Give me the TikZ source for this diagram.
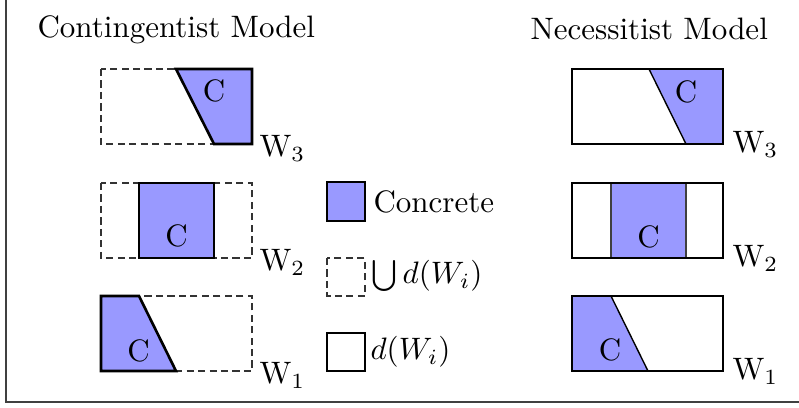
\documentclass[tikz,border=0pt]{standalone}
\definecolor{concrete}{RGB}{153,153,255}
\begin{document}
\begin{tikzpicture}[x=0.3226pt,y=-0.3226pt,
  dashbox/.style={draw=black!80, line width=0.45pt, dash pattern=on 2.3pt off 1.4pt},
  solidbox/.style={draw=black, line width=0.85pt},
  concfill/.style={fill=concrete},
  concedge/.style={draw=black, line width=0.85pt, line join=miter},
  thinsep/.style={draw=black!75, line width=0.4pt},
  lbl/.style={inner sep=0pt, anchor=base west},
  ctext/.style={inner sep=0pt},
  legtext/.style={inner sep=0pt, anchor=west}]
\useasboundingbox (0,0) rectangle (799,408);
\draw[black!75, line width=0.6pt] (6,0) -- (6,402) -- (799,402);

% titles
\node[lbl] (ct) at (37,37) {Contingentist Model};
\node[lbl] (nt) at (530,40) {Necessitist Model};

% ---- Contingentist model ----
% W3
\draw[dashbox] (101,69) rectangle (252,144);
\filldraw[concfill, concedge] (176,69) -- (252,69) -- (252,144) -- (214,144) -- cycle;
\node[ctext] (c3) at (214,91) {C};
\node[lbl] (cw3) at (259,157) {W$_3$};
% W2
\draw[dashbox] (101,183) rectangle (252,258);
\filldraw[concfill, concedge] (139,183) rectangle (214,258);
\node[ctext] (c2) at (176.5,236) {C};
\node[lbl] (cw2) at (259,271) {W$_2$};
% W1
\draw[dashbox] (101,296) rectangle (252,371);
\filldraw[concfill, concedge] (101,296) -- (139,296) -- (176,371) -- (101,371) -- cycle;
\node[ctext] (c1) at (138.5,351) {C};
\node[lbl] (cw1) at (259,384) {W$_1$};

% ---- Legend ----
\filldraw[fill=concrete, draw=black, line width=0.5pt] (327,182) rectangle (365,221);
\node[legtext] (lc) at (373,202) {Concrete};
\draw[dashbox] (327,258) rectangle (365,296);
\node[legtext] (lu) at (371,276) {$\bigcup d(W_i)$};
\draw[solidbox] (327,333) rectangle (365,371);
\node[legtext] (ld) at (370,352) {$d(W_i)$};

% ---- Necessitist model ----
% W3
\fill[concfill] (649,69) -- (723,69) -- (723,144) -- (686,144) -- cycle;
\draw[black, line width=0.45pt] (649,69) -- (686,144);
\draw[solidbox] (572,69) rectangle (723,144);
\node[ctext] (n3) at (686,92) {C};
\node[lbl] (nw3) at (732,153) {W$_3$};
% W2
\fill[concfill] (611,183) rectangle (686,258);
\draw[thinsep] (611,183) -- (611,258);
\draw[thinsep] (686,183) -- (686,258);
\draw[solidbox] (572,183) rectangle (723,258);
\node[ctext] (n2) at (648.5,237) {C};
\node[lbl] (nw2) at (732,267) {W$_2$};
% W1
\fill[concfill] (572,296) -- (611,296) -- (648,371) -- (572,371) -- cycle;
\draw[black, line width=0.45pt] (611,296) -- (648,371);
\draw[solidbox] (572,296) rectangle (723,371);
\node[ctext] (n1) at (610,350) {C};
\node[lbl] (nw1) at (732,380) {W$_1$};
\end{tikzpicture}
\end{document}
